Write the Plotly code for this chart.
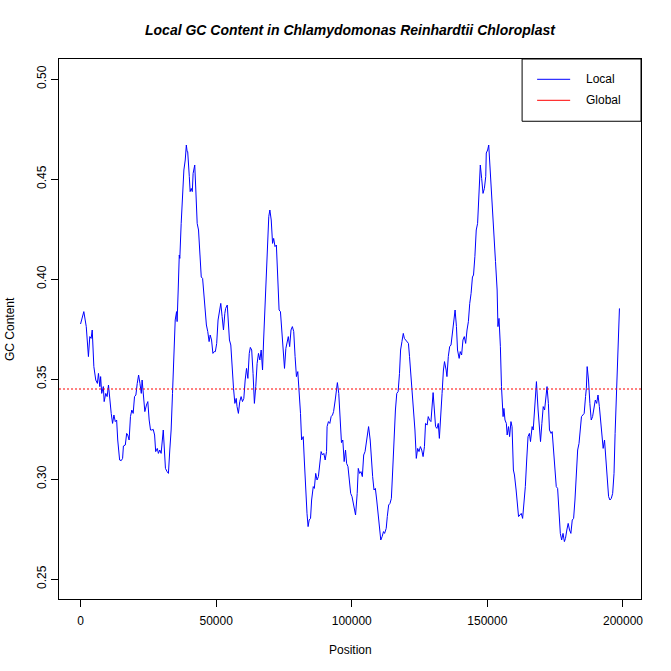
import plotly.graph_objects as go

# sliding-window GC content along the chloroplast genome
position = [
    0, 1200, 2100, 2500, 2900, 3400, 3900, 4300, 4900, 5600, 6200, 6600, 7100, 7400, 7800,
    8400, 8700, 9300, 9800, 10300, 10800, 11300, 11800, 12300, 12800, 13300, 13700, 14400,
    15000, 15500, 15800, 16500, 17000, 17400, 17900, 18400, 18900, 19400, 19900, 20400,
    20900, 21400, 21900, 22400, 22700, 23200, 23700, 24300, 24800, 25300, 25800, 26300,
    26800, 27300, 27700, 28300, 28700, 29200, 29700, 30500, 31000, 31300, 31900, 32400,
    32900, 33400, 33900, 34400, 34900, 35400, 35600, 36000, 36400, 36600, 37100, 37600,
    38100, 38600, 39000, 39300, 39500, 40100, 40400, 40800, 41200, 41500, 42100, 42500,
    43000, 43500, 44000, 44500, 45000, 45400, 46000, 46400, 46900, 47400, 47800, 48300,
    48800, 49300, 49700,
    50200, 50700, 51200, 51700, 52200, 52700, 53200, 53500, 54100, 54400, 54900, 55400,
    55900, 56400, 56900, 57400, 57700, 58200, 58700, 59200, 59700, 60200, 60700, 61200,
    61700, 62200, 62600, 63100, 63600, 64100, 64600, 65100, 65600, 66100, 66600, 67100,
    67500, 68100, 68500, 69000, 69400, 69800, 70300, 70800, 71200, 71700, 72200, 72700,
    73200, 73700, 74200, 74700, 75200, 75700, 76200, 76600, 77100, 77600, 78100, 78600,
    79100, 79600, 80100, 80600, 81100, 81500, 82100, 82500, 83000, 83500, 83900, 84300,
    84800, 85200, 85800, 86200, 86700, 87200, 87700, 88200, 88700, 89200, 89700, 90200,
    90700, 90900, 91400, 91900, 92400, 92900, 93300, 93900, 94300, 94700, 95200, 95700,
    96200, 96700, 97200, 97700, 98100, 98600, 99100, 99600, 100100, 100600, 101100,
    101400, 102000, 102400, 102900, 103400, 103900, 104400, 104900, 105400, 105900,
    106200, 106800, 107200, 107700, 108200, 108700, 109200, 109700, 110200, 110700,
    111200, 111700, 112100, 112700, 113100, 113600, 114100, 114600, 115100, 115600,
    116100, 116600, 117100, 117600, 118000, 118500, 119000, 119400, 119900, 120400,
    120900, 121300, 121900, 122300, 122800, 123300, 123800, 124300, 124800, 125300,
    125800, 126300, 126800, 127200, 127800, 128200, 128700, 129200, 130000, 130400,
    130900, 131400, 131900, 132300, 132800, 133300, 133800, 134200, 134800, 135100,
    135600, 136100, 136600, 137100, 137600, 138100, 138600, 139000, 139600, 140000,
    140500, 141000, 141500, 142000, 142500, 143000, 143500, 144000, 144500, 144900,
    145400, 145900, 146400, 146900, 147400, 147900, 148400, 148900, 149400, 149600,
    150100, 150500, 150800, 151300, 151800, 152300, 152700,
    153000, 153600, 153900, 154300, 154800, 155200, 155800, 156100, 156500, 157000,
    157300, 157800, 158200, 158700, 159100, 159600, 160000, 160600, 161000, 161500,
    162000, 162500, 163000, 163500, 164000, 164500, 165000, 165500, 165900, 166500,
    166900, 167400, 168100, 168700, 169100, 169600, 170100, 170600, 171100, 171500,
    172000, 172500, 172900, 173500, 173900, 174400, 174900, 175400, 175900, 176400,
    176900, 177400, 177900, 178400, 178800, 179300, 179800, 180300, 180800, 181300,
    181800, 182300, 182800, 183300, 183800, 184300, 184700, 185200, 185700, 186200,
    186500, 186800, 187300, 187800, 188300, 188800, 189300, 189800, 190300, 190800,
    191300, 191700, 192200, 192700, 193200, 193700, 194200, 194700, 195200, 195700,
    196200, 196700, 197100, 197600, 198100, 198700,
]
gc_local = [
    0.3775, 0.3837, 0.3762, 0.3662, 0.3612, 0.3712, 0.3703, 0.3745, 0.3562, 0.3495, 0.3478,
    0.3528, 0.3462, 0.3512, 0.3428, 0.3462, 0.3387, 0.3428, 0.3412, 0.3470, 0.3378, 0.3328,
    0.3278, 0.3320, 0.3287, 0.3295, 0.3195, 0.3095, 0.3092, 0.3103, 0.3165, 0.3170, 0.3228,
    0.3220, 0.3195, 0.3312, 0.3345, 0.3328, 0.3412, 0.3420, 0.3478, 0.3520, 0.3478, 0.3428,
    0.3495, 0.3403, 0.3337, 0.3370, 0.3387, 0.3295, 0.3245, 0.3245, 0.3248, 0.3220, 0.3137,
    0.3153, 0.3128, 0.3145, 0.3128, 0.3245, 0.3128, 0.3053, 0.3037, 0.3028, 0.3145, 0.3245,
    0.3428, 0.3628, 0.3795, 0.3837, 0.3787, 0.3945, 0.4120, 0.4103, 0.4278, 0.4428, 0.4545,
    0.4595, 0.4670, 0.4637, 0.4637, 0.4512, 0.4437, 0.4453, 0.4437, 0.4528, 0.4570, 0.4445,
    0.4278, 0.4245, 0.4128, 0.4010, 0.4003, 0.3928, 0.3845, 0.3770, 0.3737, 0.3687, 0.3720,
    0.3695, 0.3628, 0.3637, 0.3637,
    0.3678, 0.3795, 0.3845, 0.3878, 0.3812, 0.3745, 0.3828, 0.3853, 0.3870, 0.3795, 0.3695,
    0.3670, 0.3528, 0.3453, 0.3378, 0.3403, 0.3362, 0.3328, 0.3387, 0.3412, 0.3387, 0.3403,
    0.3495, 0.3553, 0.3503, 0.3628, 0.3658, 0.3645, 0.3528, 0.3378, 0.3462, 0.3578, 0.3628,
    0.3595, 0.3645, 0.3545, 0.3695, 0.3895, 0.4078, 0.4195, 0.4312, 0.4345, 0.4295, 0.4178,
    0.4203, 0.4162, 0.4170, 0.4010, 0.3845, 0.3837, 0.3745, 0.3662, 0.3553, 0.3653, 0.3695,
    0.3712, 0.3662, 0.3745, 0.3762, 0.3737, 0.3612, 0.3512, 0.3537, 0.3450, 0.3328, 0.3195,
    0.3212, 0.3095, 0.2945, 0.2828, 0.2762, 0.2795, 0.2803, 0.2895, 0.2962, 0.2953, 0.3028,
    0.2995, 0.3012, 0.3095, 0.3137, 0.3120, 0.3128, 0.3095, 0.3137, 0.3262, 0.3287, 0.3278,
    0.3312, 0.3320, 0.3337, 0.3395, 0.3445, 0.3482, 0.3428, 0.3303, 0.3182, 0.3195, 0.3087,
    0.3145, 0.3078, 0.3062, 0.2995, 0.2928, 0.2912, 0.2878, 0.2828,
    0.2820, 0.2928, 0.3053, 0.3028, 0.3037, 0.3012, 0.3120, 0.3137, 0.3187, 0.3228, 0.3262,
    0.3195, 0.3095, 0.3012, 0.2945, 0.2953, 0.2895, 0.2828, 0.2762, 0.2695, 0.2712, 0.2737,
    0.2728, 0.2753, 0.2812, 0.2870, 0.2878, 0.2903, 0.3045, 0.3228, 0.3345, 0.3428, 0.3437,
    0.3528, 0.3645, 0.3687, 0.3728, 0.3703, 0.3695, 0.3687, 0.3678, 0.3612, 0.3495, 0.3462,
    0.3362, 0.3245, 0.3103, 0.3153, 0.3137, 0.3162, 0.3145, 0.3112, 0.3162, 0.3278, 0.3270,
    0.3312, 0.3295, 0.3287, 0.3432, 0.3362, 0.3262, 0.3253, 0.3278, 0.3203, 0.3295, 0.3428,
    0.3545, 0.3587, 0.3545, 0.3512, 0.3612, 0.3662, 0.3670, 0.3728, 0.3778, 0.3845, 0.3762,
    0.3645, 0.3603, 0.3637, 0.3620, 0.3695, 0.3712, 0.3678, 0.3745, 0.3787, 0.3878, 0.3928,
    0.4010, 0.4020, 0.4112, 0.4245, 0.4278, 0.4462, 0.4570, 0.4503, 0.4428, 0.4453, 0.4512,
    0.4630, 0.4645, 0.4670, 0.4595, 0.4512, 0.4357, 0.4228, 0.4095,
    0.4087, 0.3945, 0.3762, 0.3803, 0.3662, 0.3462, 0.3312, 0.3353, 0.3295, 0.3278, 0.3220,
    0.3262, 0.3212, 0.3287, 0.3262, 0.3045, 0.3020, 0.2945, 0.2878, 0.2812, 0.2820, 0.2828,
    0.2803, 0.2878, 0.2962, 0.3095, 0.3212, 0.3228, 0.3187, 0.3262, 0.3245, 0.3345, 0.3487,
    0.3345, 0.3262, 0.3187, 0.3278, 0.3362, 0.3345, 0.3395, 0.3462, 0.3378, 0.3245, 0.3228,
    0.3237, 0.3145, 0.3045, 0.2962, 0.2953, 0.2862, 0.2728, 0.2695, 0.2728, 0.2687, 0.2703,
    0.2745, 0.2778, 0.2745, 0.2728, 0.2795, 0.2803, 0.2895, 0.3012, 0.3145, 0.3178, 0.3245,
    0.3312, 0.3320, 0.3328, 0.3412, 0.3453, 0.3562, 0.3495, 0.3378, 0.3295, 0.3312, 0.3362,
    0.3395, 0.3378, 0.3420, 0.3362, 0.3295, 0.3212, 0.3153, 0.3195, 0.3095, 0.3028, 0.2912,
    0.2895, 0.2903, 0.2928, 0.3028, 0.3228, 0.3462, 0.3678, 0.3853,
]
gc_global = 0.345

x_ticks = [0, 50000, 100000, 150000, 200000]
y_ticks = [0.25, 0.30, 0.35, 0.40, 0.45, 0.50]

legend_names = ["Local", "Global"]
legend_colors = ["#0000ff", "#ff0000"]

font = dict(family="Liberation Sans, Arial, sans-serif", size=12, color="black")

fig = go.Figure()
fig.add_trace(go.Scatter(x=position, y=gc_local, mode="lines", name="Local",
                         line=dict(color="#0000ff", width=1)))
fig.add_hline(y=gc_global, line=dict(color="#ff0000", width=1, dash="2px,2px"))

axis_common = dict(showline=True, linecolor="black", linewidth=1, mirror=True,
                   ticks="outside", ticklen=7, tickcolor="black", tickwidth=1,
                   showgrid=False, zeroline=False, tickfont=font)

fig.update_xaxes(range=[-7950, 206650], tickvals=x_ticks,
                 ticktext=[str(v) for v in x_ticks], ticklabelstandoff=4, **axis_common)
fig.update_yaxes(range=[0.24, 0.51], tickvals=y_ticks,
                 ticktext=["%.2f" % v for v in y_ticks], tickangle=-90, **axis_common)

fig.add_annotation(text="Local GC Content in Chlamydomonas Reinhardtii Chloroplast",
                   xref="paper", yref="paper", x=0.5, y=1, yshift=29, showarrow=False,
                   yanchor="middle",
                   font=dict(family="Liberation Sans, Arial, sans-serif", size=14,
                             color="black", weight="bold", style="italic"))
fig.add_annotation(text="Position", xref="paper", yref="paper", x=0.5, y=0, yshift=-51,
                   showarrow=False, yanchor="middle", font=font)
fig.add_annotation(text="GC Content", xref="paper", yref="paper", x=0, y=0.5, xshift=-49,
                   showarrow=False, xanchor="center", textangle=-90, font=font)

# R-style legend box in the top-right corner
fig.add_shape(type="rect", xref="paper", yref="paper", x0=0.7957, x1=1.0, y0=0.8847, y1=1.0,
              line=dict(color="black", width=1), fillcolor="white", layer="above")
for i, (name, color) in enumerate(zip(legend_names, legend_colors)):
    y = 0.9624 - i * 0.0389
    fig.add_shape(type="line", xref="paper", yref="paper", x0=0.8215, x1=0.8783, y0=y, y1=y,
                  line=dict(color=color, width=1), layer="above")
    fig.add_annotation(text=name, xref="paper", yref="paper", x=0.9024, y=y,
                       xanchor="left", yanchor="middle", showarrow=False, font=font)

fig.update_layout(
    width=671, height=671,
    margin=dict(l=59, r=30, t=59, b=72),
    paper_bgcolor="white", plot_bgcolor="white",
    showlegend=False,
)

# drop the browser's default page margin so the figure sits at the window corner
fig.write_html("out.html", config={"displayModeBar": False},
               post_script="document.body.style.margin='0';")
